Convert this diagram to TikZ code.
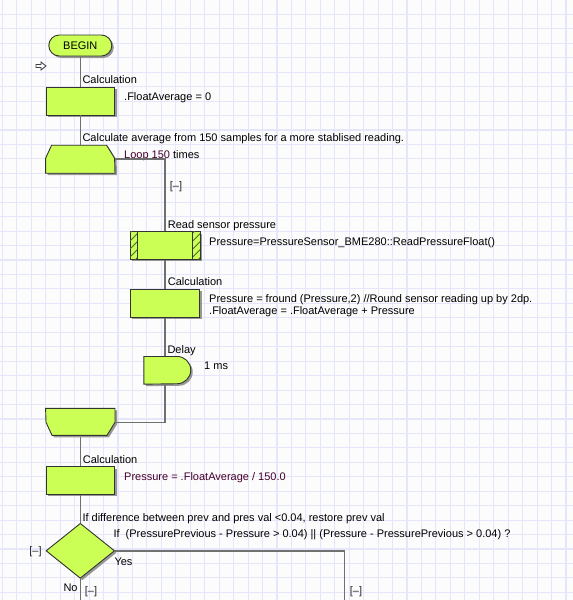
\documentclass[tikz,border=0pt]{standalone}
\usepackage{fontspec}
\setmainfont{Liberation Sans}
\usetikzlibrary{shapes.geometric,shadows}

\definecolor{blockfill}{RGB}{204,255,85}
\definecolor{paper}{RGB}{252,252,253}
\definecolor{gridcol}{RGB}{230,230,250}
\definecolor{flowcol}{RGB}{112,112,112}
\definecolor{hatchcol}{RGB}{70,110,30}
\definecolor{maroontxt}{RGB}{70,0,45}

\tikzset{
    block/.style={draw=black!80, fill=blockfill, line width=0.9pt, inner sep=0pt,
        drop shadow={shadow xshift=2pt, shadow yshift=-2pt, fill=black!50, opacity=0.8}},
    hold/.style={inner sep=0pt, minimum width=69pt, minimum height=28pt},
    flow/.style={draw=flowcol, line width=1.6pt},
    gridline/.style={draw=gridcol, line width=1.1pt},
    hatch/.style={draw=hatchcol, line width=0.8pt},
    txt/.style={anchor=base west, inner sep=0pt},
    fold/.style={inner sep=0pt, text=black!85},
}

\begin{document}
\begin{tikzpicture}[x=1pt, y=-1pt, font=\fontsize{11}{13}\selectfont]
    % Page and grid
    \useasboundingbox (0,0) rectangle (573,600);
    \fill[paper] (0,0) rectangle (573,600);
    \foreach \i in {0,...,39}
        \draw[gridline] ({2.4+14.45*\i},0) -- ({2.4+14.45*\i},600);
    \foreach \j in {1,...,41}
        \draw[gridline] (0,{14.45*\j-0.1}) -- (573,{14.45*\j-0.1});

    % Start
    \node[block, rounded corners=10.5pt, minimum width=63pt, minimum height=21pt] (begin) at (80.3,45.5) {BEGIN};
    \draw[black!75, line width=0.8pt, line join=miter] (36,64.5) -- (41,64.5) -- (41,62) -- (46,66) -- (41,70) -- (41,67.5) -- (36,67.5) -- cycle;

    % Calculation
    \node[block, minimum width=68.5pt, minimum height=28pt] (calcA) at (80.3,101) {};
    \node[txt] (calcAlab) at (82.3,83) {Calculation};
    \node[txt] (calcAtxt) at (124,100.7) {.FloatAverage = 0};

    % Loop start
    \node[hold] (loopA) at (80.3,159) {};
    \path[block] (loopA.south west) -- ++(0,-15) -- ++(6,-13) -- ++(55,0) -- ++(8,13) -- (loopA.south east) -- cycle;
    \node[txt] (loopAcmt) at (82.3,141) {Calculate average from 150 samples for a more stablised reading.};
    \node[txt] (loopAtxt) at (124,158.3) {\textcolor{maroontxt}{Loop 150} times};
    \node[fold] (loopAfold) at (176,187) {[–]};

    % Read sensor pressure
    \node[block, minimum width=70pt, minimum height=27.6pt] (macro) at (165,245.5) {};
    \foreach \bx in {130,192.7} {
        \begin{scope}
            \clip (\bx,231.7) rectangle ++(7.3,27.6);
            \foreach \k in {0,...,4}
                \draw[hatch] (\bx-5,{270-8*\k}) -- ++(20,-20);
        \end{scope}
    }
    \draw[black!80, line width=0.9pt] (137.3,231.7) -- (137.3,259.3);
    \draw[black!80, line width=0.9pt] (192.7,231.7) -- (192.7,259.3);
    \node[txt] (macrolab) at (167.7,228.3) {Read sensor pressure};
    \node[txt] (macrotxt) at (209,245.7) {Pressure=PressureSensor\_BME280::ReadPressureFloat()};

    % Calculation in loop
    \node[block, minimum width=69.3pt, minimum height=28pt] (calcB) at (165,303.3) {};
    \node[txt] (calcBlab) at (167.7,285.7) {Calculation};
    \node[txt] (calcBtxt) at (209,302) {Pressure = fround (Pressure,2) //Round sensor reading up by 2dp.};
    \node[txt] (calcBtxtb) at (209,314.3) {.FloatAverage = .FloatAverage + Pressure};

    % Delay
    \node[inner sep=0pt, minimum width=47pt, minimum height=27.3pt] (delay) at (167.5,370.3) {};
    \path[block] (delay.north west) -- ++(33.3,0) arc[start angle=-90, end angle=90, radius=13.65] -- (delay.south west) -- cycle;
    \node[txt] (delaylab) at (167.3,353.3) {Delay};
    \node[txt] (delaytxt) at (204,369) {1 ms};

    % Loop end
    \node[hold] (loopB) at (80.3,422.5) {};
    \path[block] (loopB.north west) -- (loopB.north east) -- ++(0,14) -- ++(-8,13) -- ++(-55,0) -- ++(-6,-13) -- cycle;

    % Calculation after loop
    \node[block, minimum width=68.6pt, minimum height=27.6pt] (calcC) at (80.3,480.5) {};
    \node[txt] (calcClab) at (82.7,463.3) {Calculation};
    \node[txt, text=maroontxt] (calcCtxt) at (124,480) {Pressure = .FloatAverage / 150.0};

    % Decision
    \node[block, diamond, minimum width=68.6pt, minimum height=55pt] (dec) at (80.3,550.8) {};
    \node[txt] (declab) at (82.3,521.7) {If difference between prev and pres val <0.04, restore prev val};
    \node[txt] (dectxt) at (113.3,537.3) {If~ (PressurePrevious - Pressure > 0.04) || (Pressure - PressurePrevious > 0.04) ?};
    \node[txt] (decyes) at (114.3,565.7) {Yes};
    \node[txt] (decno) at (63.3,591.7) {No};
    \node[fold] (decfold) at (35.5,551.5) {[–]};
    \node[fold] (nofold) at (91,592) {[–]};
    \node[fold] (yesfold) at (356,592) {[–]};
    \coordinate (noend) at (80.3,603);
    \coordinate (yesend) at (344.3,603);

    % Connectors
    \draw[flow] (begin.south) -- (calcA.north);
    \draw[flow] (calcA.south) -- (loopA.north);
    \draw[flow] (loopA.east) -| (macro.north);
    \draw[flow] (macro.south) -- (calcB.north);
    \draw[flow] (calcB.south) -- (calcB.south |- delay.north);
    \draw[flow] (delay.south -| calcB.south) |- (loopB.east);
    \draw[flow] (loopB.south) -- (calcC.north);
    \draw[flow] (calcC.south) -- (dec.north);
    \draw[flow] (dec.south) -- (noend);
    \draw[flow] (dec.east) -| (yesend);
\end{tikzpicture}
\end{document}
